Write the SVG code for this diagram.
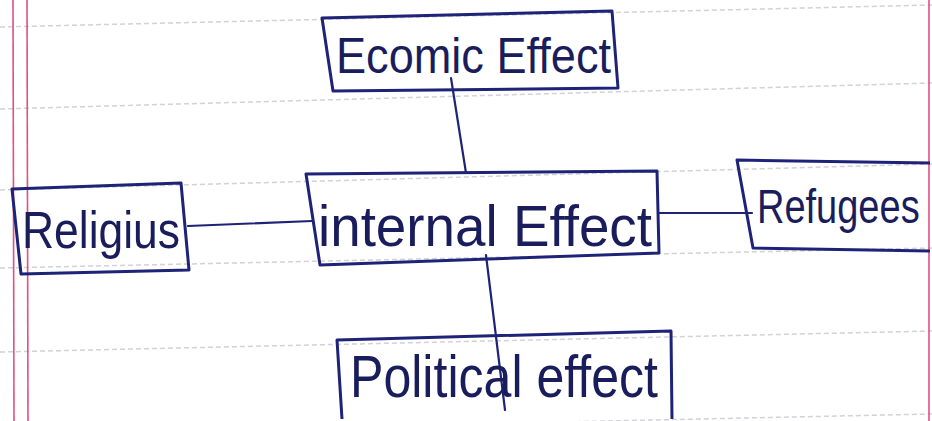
<svg xmlns="http://www.w3.org/2000/svg" width="932" height="421" viewBox="0 0 932 421">
<style>
.rule{stroke:#d2d2d8;stroke-width:1.5;stroke-dasharray:5 3;fill:none}
.margin{stroke:#e2507f;stroke-width:1.6;fill:none}
.box{fill:none;stroke:#1e2378;stroke-width:3;stroke-linejoin:round}
.conn{fill:none;stroke:#1e2378;stroke-width:2.2;stroke-linecap:round}
.lbl{font-family:"Liberation Sans","DejaVu Sans",sans-serif;fill:#1a1d5c;font-weight:normal}
</style>
<rect width="932" height="421" fill="#ffffff"/>
<g id="paper">
<line class="rule" x1="0" y1="27" x2="932" y2="5"/>
<line class="rule" x1="0" y1="109" x2="932" y2="83"/>
<line class="rule" x1="0" y1="190" x2="932" y2="164"/>
<line class="rule" x1="0" y1="268" x2="932" y2="248"/>
<line class="rule" x1="0" y1="352" x2="932" y2="331"/>
<line class="rule" x1="0" y1="434" x2="932" y2="414"/>
<line class="margin" x1="13" y1="0" x2="14" y2="421"/>
<line class="margin" x1="27" y1="0" x2="28" y2="421"/>
<line class="margin" x1="929" y1="0" x2="929" y2="421"/>
</g>
<g id="connectors">
<line class="conn" x1="451" y1="78" x2="466" y2="173"/>
<line class="conn" x1="188" y1="226" x2="312" y2="221"/>
<line class="conn" x1="659" y1="213" x2="752" y2="213"/>
<line class="conn" x1="486" y1="255" x2="505" y2="410"/>
</g>
<g id="economic">
<polygon class="box" points="322,18 612,11 618,88 333,91"/>
<text class="lbl" x="336" y="73" font-size="50" textLength="275" lengthAdjust="spacingAndGlyphs">Ecomic Effect</text>
</g>
<g id="religious">
<polygon class="box" points="12,189 181,183 189,270 21,274"/>
<text class="lbl" x="22" y="248" font-size="52" textLength="158" lengthAdjust="spacingAndGlyphs">Religius</text>
</g>
<g id="internal">
<polygon class="box" points="306,174 657,171 659,253 320,265"/>
<text class="lbl" x="318" y="246" font-size="58" textLength="334" lengthAdjust="spacingAndGlyphs">internal Effect</text>
</g>
<g id="refugees">
<polyline class="box" points="930,163 737,160 753,248 930,251"/>
<text class="lbl" transform="translate(757,223) scale(1,1.25)" x="0" y="0" font-size="38">Refugees</text>
</g>
<g id="political">
<polyline class="box" points="342,419 337,340 671,331 672,419"/>
<text class="lbl" x="350" y="397" font-size="60" textLength="308" lengthAdjust="spacingAndGlyphs">Political effect</text>
</g>
</svg>
